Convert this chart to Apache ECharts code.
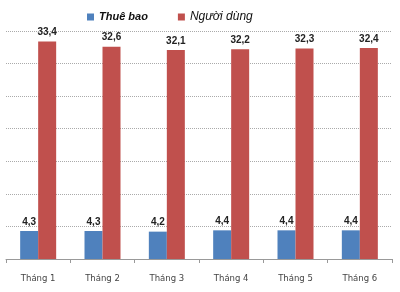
<!DOCTYPE html>
<html>
<head>
<meta charset="utf-8">
<script src="https://cdn.jsdelivr.net/npm/echarts@6/dist/echarts.min.js"></script>
<style>
html, body { margin: 0; padding: 0; background: #fff; }
#chart { width: 400px; height: 292px; }
</style>
</head>
<body>
<div id="chart"></div>
<script>
var categories = ['Tháng 1', 'Tháng 2', 'Tháng 3', 'Tháng 4', 'Tháng 5', 'Tháng 6'];
var thueBao = [4.3, 4.3, 4.2, 4.4, 4.4, 4.4];
var nguoiDung = [33.4, 32.6, 32.1, 32.2, 32.3, 32.4];

var myChart = echarts.init(document.getElementById('chart'));

function commaLabel(p) {
    return String(p.value).replace('.', ',');
}

var valueLabel = {
    show: true,
    position: 'top',
    distance: 4,
    formatter: commaLabel,
    fontFamily: 'Liberation Sans',
    fontWeight: 'bold',
    fontSize: 10,
    color: '#222'
};

var option = {
    animation: false,
    legend: {
        top: 6,
        left: 82,
        itemWidth: 7,
        itemHeight: 7,
        itemGap: 30,
        icon: 'rect',
        textStyle: {
            fontFamily: 'Liberation Sans',
            fontStyle: 'italic',
            fontSize: 11,
            color: '#111'
        },
        data: [
            { name: 'Thuê bao', textStyle: { fontWeight: 'bold', fontSize: 11 } },
            { name: 'Người dùng', textStyle: { fontWeight: 'normal', fontSize: 12 } }
        ]
    },
    grid: {
        left: 6,
        right: 8,
        top: 31,
        bottom: 33
    },
    xAxis: {
        type: 'category',
        data: categories,
        axisLine: { lineStyle: { color: '#999' } },
        axisTick: { show: true, length: 4, lineStyle: { color: '#999' } },
        axisLabel: {
            margin: 15,
            fontFamily: 'DejaVu Sans',
            fontSize: 8.5,
            color: '#444'
        }
    },
    yAxis: {
        type: 'value',
        min: 0,
        max: 35,
        interval: 5,
        axisLabel: { show: false },
        axisLine: { show: false },
        axisTick: { show: false },
        splitLine: { lineStyle: { color: '#aaa', type: 'dotted' } }
    },
    series: [
        {
            name: 'Thuê bao',
            type: 'bar',
            data: thueBao,
            barWidth: 18,
            barGap: '0%',
            itemStyle: { color: '#4F81BD' },
            label: valueLabel
        },
        {
            name: 'Người dùng',
            type: 'bar',
            data: nguoiDung,
            barWidth: 18,
            itemStyle: { color: '#C0504D' },
            label: valueLabel
        }
    ]
};

myChart.setOption(option);
</script>
</body>
</html>
